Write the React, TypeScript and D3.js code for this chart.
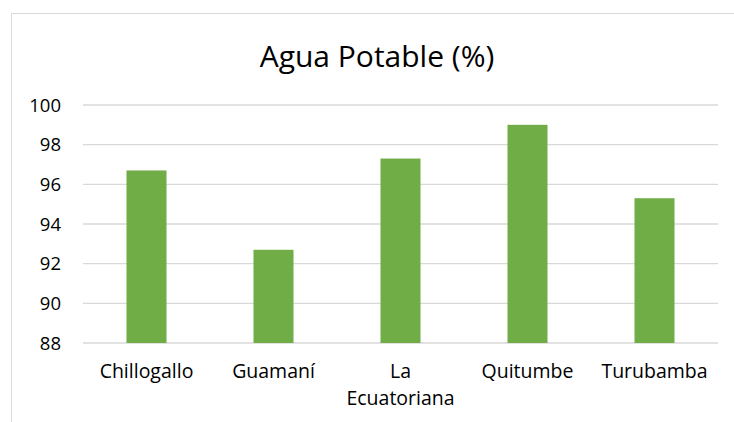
import React from 'react';
import * as d3 from 'd3';

const categories = ['Chillogallo', 'Guamaní', 'La Ecuatoriana', 'Quitumbe', 'Turubamba'];
const labelLines = [['Chillogallo'], ['Guamaní'], ['La', 'Ecuatoriana'], ['Quitumbe'], ['Turubamba']];
const values = [96.7, 92.7, 97.3, 99.0, 95.3];
const yTicks = [88, 90, 92, 94, 96, 98, 100];

const App = () => {
  const w = 734, h = 422;
  const left = 83, right = 718, top = 105, bottom = 343;
  const font = '"Open Sans", sans-serif';

  const x = d3.scaleBand<string>()
    .domain(categories)
    .range([left, right])
    .paddingInner(0.685)
    .paddingOuter(0.3425);
  const y = d3.scaleLinear().domain([88, 100]).range([bottom, top]);

  return (
    <svg width={w} height={h} style={{position: 'absolute', left: 0, top: 0}}>
      <rect x={0} y={0} width={w} height={h} fill="#fff" />
      {/* chart area border */}
      <path d={`M11.5,${h} V13.5 H${w}`} fill="none" stroke="#d9d9d9" strokeWidth={1} />
      <text x={377} y={67} textAnchor="middle" fontFamily={font} fontSize={30} fill="#000">
        Agua Potable (%)
      </text>
      {yTicks.map(t => (
        <g key={t}>
          <line x1={left} x2={right} y1={y(t)} y2={y(t)} stroke="#d9d9d9" strokeWidth={1.3} />
          <text x={61} y={y(t)} dy="0.36em" textAnchor="end" fontFamily={font} fontSize={18.5} fill="#000">
            {t}
          </text>
        </g>
      ))}
      {categories.map((c, i) => (
        <rect key={c} x={x(c)} y={y(values[i])} width={x.bandwidth()} height={bottom - y(values[i])} fill="#70ad47" />
      ))}
      {categories.map((c, i) => (
        <text key={c} textAnchor="middle" fontFamily={font} fontSize={19.5} fill="#000">
          {labelLines[i].map((l, j) => (
            <tspan key={j} x={(x(c) ?? 0) + x.bandwidth() / 2} y={378 + j * 27}>{l}</tspan>
          ))}
        </text>
      ))}
    </svg>
  );
};

export default App;
